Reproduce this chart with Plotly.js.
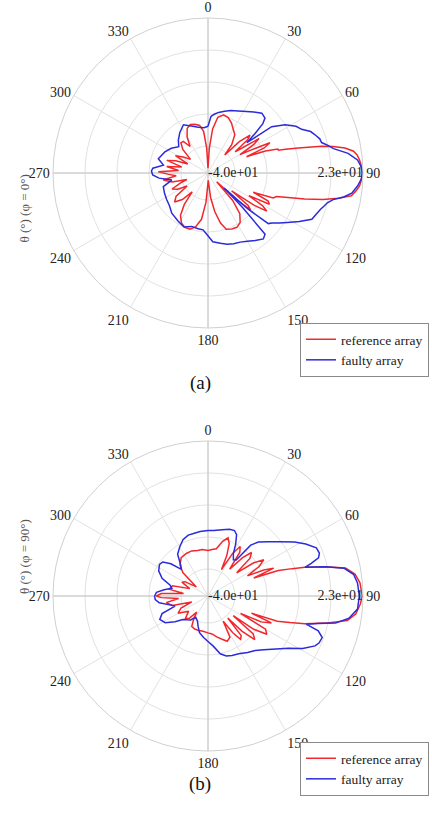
<!DOCTYPE html>
<html>
<head>
<meta charset="utf-8">
<script src="https://cdn.plot.ly/plotly-3.0.1.min.js"></script>
<style>html,body{margin:0;padding:0;background:#fff;}#chart{width:432px;height:820px;}</style>
</head>
<body>
<div id="chart"></div>
<script>
// ---------- (a) phi = 0 deg ----------
const thetaRefA = [0,3,6,10,15,20,25,30,35,40,43,45,48,50,52,54,56,58,60,62,64,66,67,69,71,72,73,74.5,76.8,78,79.7,81.5,83,85,87,90,
  93,95,97,99,101,103,105,107,109,111,113,115,117,119,121,123,125,127,129,131,133,135,138,142,147,152,157,162,166,170,174,178,
  180,184,188,193,198,203,208,213,217,220,224,229,234,238,242,246,250,253,256,261,265,268,271.5,275,279,283,287,291,294,298,303,308,313,318,322,326,330,335,340,345,350,354,357,360];
const dbRefA = [-38,-30,-22,-17,-15.5,-16,-17.5,-19.5,-21,-25,-30,-22,-17,-19,-26,-22,-15,-18,-25,-20,-12,-15,-23,-15,-10,-9.9,-7,-1.9,7.4,12,16.6,19.8,21,21.8,22.3,22.6,
  22.3,21.8,20.5,19,14,8,0.7,-6,-10.6,-11.6,-20,-13,-12,-21,-14,-11.5,-17,-28,-19,-17,-24,-35,-25,-19,-16,-15,-15.3,-16,-19,-24,-30,-37,
  -36,-28,-21,-17.5,-16,-16,-17,-19.5,-24,-30,-25,-22,-24,-30,-26,-24,-28,-31,-25,-21.6,-27,-24,-19.8,-28,-23,-29,-22.5,-26,-31,-25,-28,-31,-26,-23.5,-23.7,-27,-23,-20,-19,-19.5,-20.4,-23,-30,-38];

const thetaFaultyA = [0,3,6,10,15,20,26,32,37,42,46,48,50,52,54,58,62,65,68,71,73,75,77,79,82,85,88,90,
  92,95,98,100,102,104,106,108,111,114,118,122,125,128,130,132,133,135,137,140,145,150,155,160,165,170,176,
  181,185,190,197,204,212,222,230,237,245,253,259,264,268,272,275,280,286,292,296,304,312,318,325,333,337,342,348,355,360];
const dbFaultyA = [-21,-17,-16,-15,-14,-13,-12,-10.5,-9,-7.3,-7.8,-10,-15,-20,-8,-3,0.5,2,5,6.5,7.5,7.8,10,12,17.5,21,22.5,22.8,
  22.5,21,19,16,12,10,9,8,7,6.2,2,-2,-4.5,-7,-8,-18,-31,-20,-6,-5,-6.5,-8,-9,-9.4,-10,-11,-12,
  -15,-16.8,-17,-17.3,-16,-17,-18,-19.5,-20,-20.5,-21,-25,-20,-17.5,-17,-17.5,-21.6,-19,-20,-20.5,-22,-24,-22,-20,-18,-19,-20,-21,-21.5,-21];

// ---------- (b) phi = 90 deg ----------
const thetaRefB = [0,5,10,15,19,22,25,27,30,33,36,39,42,45,48,51,54,57,60,63,65,67,68.5,70,72,73.5,76,78.5,81.5,85,90,
  93,97,100,103,106,108,110,111.5,113,116,118,120,123,126,128,130,133,136,138,140,143,146,149,152,157,162,168,174,180,188,195,202,208,212,215,220,
  225,232,240,246,250,255,261,265,268,270,273,276,280,286,292,298,302,308,313,318,325,333,340,347,353,360];
const dbRefB = [-21.5,-21,-20.5,-17,-15,-17,-22,-28,-20,-16,-18,-26,-19,-15,-17,-25,-17,-13,-16,-22,-15,-11,-20,-9.6,-4,1,9,17,20.4,22,22.7,
  22,20.5,17.5,9,1,-5,-10,-21,-12,-16,-25,-13,-11.5,-17,-27,-16,-14,-20,-28,-19,-18,-22,-28,-21,-20,-21.5,-23,-24.5,-25,-25.5,-25.5,-25.5,-26,-29,-32,-28,
  -27,-30,-26,-28,-33,-25,-22.8,-28,-21,-19,-21,-30,-24,-25,-32,-28,-29,-34,-26,-23,-21,-20.6,-20.5,-21,-21,-21.5];

const thetaFaultyB = [0,5,12,18,22,25,28,31,35,38,40,43,48,53,58,62,66,69,71,72.5,73.5,76,78.5,81.5,85,90,
  95,99,102,104,106,107.5,110,113,115,119,123,128,134,139,145,152,158,163,168,174,180,186,193,198,203,210,216,222,227,232,238,244,249,253,257,262,266,270,
  274,278,282,286,291,297,303,307,311,315,319,324,330,336,342,347,353,360];
const dbFaultyB = [-13.4,-13.3,-12.5,-11.5,-11.3,-12.5,-16,-20,-22,-21.4,-13,-10,-7,-3.3,1.5,5,8.2,8.5,7.5,4,1.1,9,16.5,19.8,21,21.5,
  21,18,13,6,1.5,7,9.4,9,8,4,-1,-5,-8.5,-10.7,-12,-13.4,-13.9,-14.5,-16,-19.5,-21.5,-23,-24.7,-27,-29,-30,-28,-27,-26,-23,-19.5,-18.2,-20,-26,-24,-20,-18.5,-18.3,
  -19,-22,-25,-24,-20,-17.5,-16.5,-17,-20,-24.7,-23,-19,-17,-15,-14,-13.9,-13.6,-13.4];

// ---------- labels ----------
const angleTicks = [0,30,60,90,120,150,180,210,240,270,300,330];
const ringTicks = [-29,-16,-3,10];
const radialRange = [-40, 23];
const endLabels = ['-4.0e+01','2.3e+01'];
const endLabelR = [-40, 23];
const seriesNames = ['reference array','faulty array'];
const sideTitles = ['θ (°) (φ = 0°)','θ (°) (φ = 90°)'];
const captions = ['(a)','(b)'];

const FONT = "'Liberation Serif', 'Times New Roman', serif";
const RED = '#f0282d', BLUE = '#2b2bdc';

function curve(th, r, name, color, sub, leg, show){
  return {type:'scatterpolar', mode:'lines', theta:th, r:r, name:name, subplot:sub, legend:leg,
    showlegend:show, line:{color:color, width:1.5}, hoverinfo:'skip'};
}
function axesCross(sub){
  return {type:'scatterpolar', mode:'lines', subplot:sub, showlegend:false, hoverinfo:'skip',
    theta:[0,0,180,null,90,90,270], r:[radialRange[1],radialRange[0],radialRange[1],null,radialRange[1],radialRange[0],radialRange[1]],
    line:{color:'#c4c4c4', width:1}};
}
function endText(sub){
  return {type:'scatterpolar', mode:'text', subplot:sub, showlegend:false, hoverinfo:'skip',
    theta:[90,90], r:endLabelR, text:endLabels, textposition:['middle right','middle left'],
    textfont:{family:FONT, size:14, color:'#222'}, cliponaxis:false};
}

const data = [
  axesCross('polar'), axesCross('polar2'),
  curve(thetaRefA, dbRefA, seriesNames[0], RED, 'polar', 'legend', true),
  curve(thetaFaultyA, dbFaultyA, seriesNames[1], BLUE, 'polar', 'legend', true),
  curve(thetaRefB, dbRefB, seriesNames[0], RED, 'polar2', 'legend2', true),
  curve(thetaFaultyB, dbFaultyB, seriesNames[1], BLUE, 'polar2', 'legend2', true),
  endText('polar'), endText('polar2')
];

function polarLayout(ydom){
  return {
    domain:{x:[53/432, 363/432], y:ydom},
    bgcolor:'#fff',
    angularaxis:{rotation:90, direction:'clockwise', tickmode:'array', tickvals:angleTicks,
      ticktext:angleTicks.map(String), ticks:'', showline:true, linecolor:'#d0d0d0', linewidth:1,
      gridcolor:'#e2e2e2', tickfont:{family:FONT, size:14, color:'#222'}},
    radialaxis:{range:radialRange, tickmode:'array', tickvals:ringTicks, showticklabels:false,
      ticks:'', showline:false, gridcolor:'#e2e2e2'}
  };
}

const legendStyle = (ytop)=>({x:300/432, y:ytop, xanchor:'left', yanchor:'top', bgcolor:'#fff',
  bordercolor:'#8a8a8a', borderwidth:1, font:{family:FONT, size:13.5, color:'#222'},
  tracegroupgap:0, itemwidth:30});

const layout = {
  width:432, height:820, margin:{l:0,r:0,t:0,b:0,autoexpand:false}, paper_bgcolor:'#fff', showlegend:true,
  font:{family:FONT},
  polar: polarLayout([1-328/820, 1-18/820]),
  polar2: polarLayout([1-751/820, 1-441/820]),
  legend: legendStyle(1-323/820),
  legend2: legendStyle(1-742/820),
  annotations:[
    {xref:'paper', yref:'paper', x:15/432, y:1-173/820, text:sideTitles[0], showarrow:false, textangle:-90,
      font:{family:FONT, size:13, color:'#555'}},
    {xref:'paper', yref:'paper', x:15/432, y:1-596/820, text:sideTitles[1], showarrow:false, textangle:-90,
      font:{family:FONT, size:13, color:'#555'}},
    {xref:'paper', yref:'paper', x:200/432, y:1-383/820, text:captions[0], showarrow:false,
      font:{family:FONT, size:19, color:'#111'}},
    {xref:'paper', yref:'paper', x:200/432, y:1-797/820, text:captions[1], showarrow:false,
      font:{family:FONT, size:19, color:'#111'}}
  ]
};

Plotly.newPlot('chart', data, layout, {staticPlot:true, displayModeBar:false});
</script>
</body>
</html>
